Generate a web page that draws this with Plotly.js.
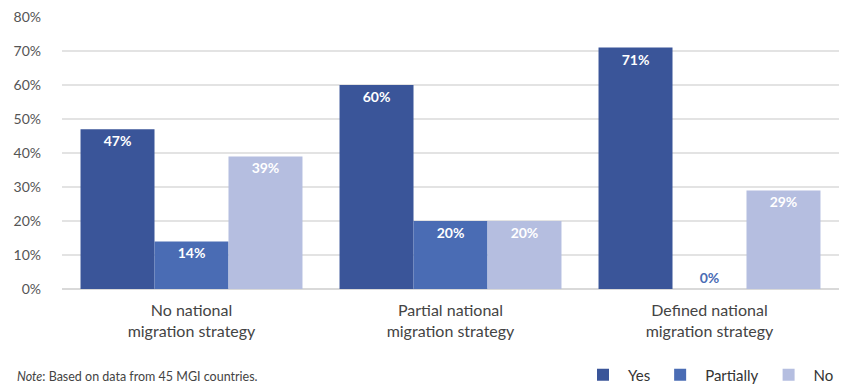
<!DOCTYPE html>
<html>
<head>
<meta charset="utf-8">
<script src="https://cdn.plot.ly/plotly-3.0.1.min.js"></script>
<style>html,body{margin:0;padding:0;background:#fff;}#chart{width:846px;height:385px;}</style>
</head>
<body>
<div id="chart"></div>
<script>
const categories = ["No national<br>migration strategy", "Partial national<br>migration strategy", "Defined national<br>migration strategy"];
const seriesNames = ["Yes", "Partially", "No"];
const yesValues = [47, 60, 71];
const partiallyValues = [14, 20, 0];
const noValues = [39, 20, 29];
const yTickVals = [0, 10, 20, 30, 40, 50, 60, 70, 80];
const yTickText = ["0%", "10%", "20%", "30%", "40%", "50%", "60%", "70%", "80%"];
const colors = ["#3a5599", "#4a6cb4", "#b5bee0"];

const allValues = [yesValues, partiallyValues, noValues];
const traces = allValues.map((vals, i) => ({
  type: "bar",
  name: seriesNames[i],
  x: categories,
  y: vals,
  marker: {color: colors[i], line: {width: 0}},
  text: vals.map(v => v + "%"),
  textposition: vals.map(v => v === 0 ? "outside" : "inside"),
  insidetextanchor: "end",
  textangle: 0,
  cliponaxis: false,
  textfont: {family: "Lato, sans-serif", size: 14, weight: "bold", color: vals.map(v => v === 0 ? colors[i] : "#ffffff")},
  hoverinfo: "skip"
}));

const layout = {
  width: 846, height: 385,
  margin: {l: 62, r: 7, t: 17, b: 96},
  paper_bgcolor: "#ffffff", plot_bgcolor: "#ffffff",
  barmode: "group",
  bargap: 0.143, bargroupgap: 0,
  font: {family: "Lato, sans-serif", color: "#555555"},
  xaxis: {
    showgrid: false, zeroline: false, showline: false, automargin: false,
    ticks: "", ticklabelstandoff: 10, tickfont: {size: 16, color: "#444444"},
    fixedrange: true
  },
  yaxis: {
    range: [0, 80], tickvals: yTickVals, ticktext: yTickText, automargin: false,
    showgrid: true, gridcolor: "#e3e3e3", gridwidth: 1.5,
    zeroline: true, zerolinecolor: "#d9d9d9", zerolinewidth: 1.5,
    showline: false, ticks: "", ticklabelstandoff: 20,
    tickfont: {size: 14, color: "#555555"}, fixedrange: true
  },
  showlegend: true,
  legend: {
    orientation: "h", x: 1, xanchor: "right", yref: "container", y: 0.026, yanchor: "middle",
    font: {size: 15, color: "#333333"}, itemwidth: 40, tracegroupgap: 0,
    bgcolor: "rgba(0,0,0,0)"
  },
  annotations: [{
    xref: "paper", yref: "paper", x: -0.06, y: -0.32, xanchor: "left", yanchor: "middle",
    showarrow: false, align: "left",
    text: "<i>Note</i>: Based on data from 45 MGI countries.",
    font: {size: 12.5, color: "#444444"}
  }]
};

Plotly.newPlot("chart", traces, layout, {displayModeBar: false, staticPlot: true});
</script>
</body>
</html>
